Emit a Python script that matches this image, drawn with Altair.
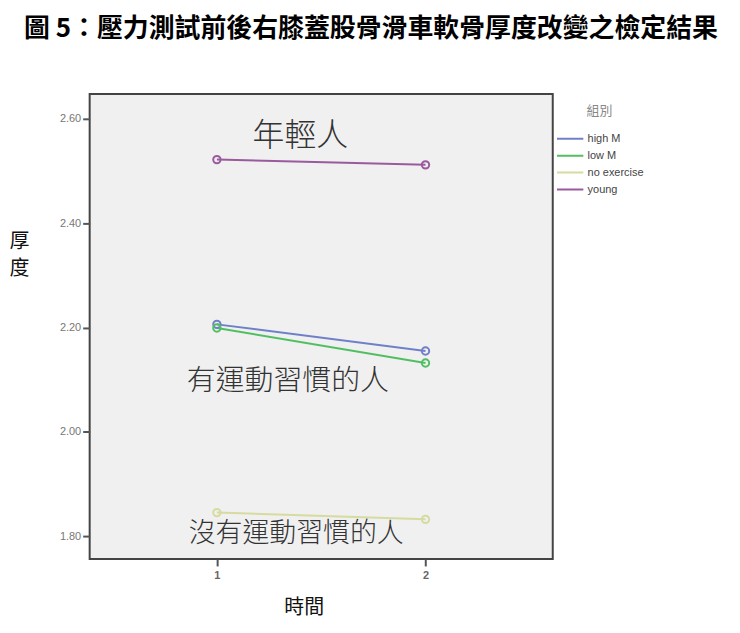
import altair as alt
import pandas as pd

groups = ["high M", "low M", "no exercise", "young"]
times = [1, 2]
high_m = [2.206, 2.155]
low_m = [2.199, 2.132]
no_exercise = [1.845, 1.832]
young = [2.522, 2.512]
colors = ["#7080c8", "#50bf62", "#d6dba0", "#9a5a9e"]

notes = ["年輕人", "有運動習慣的人", "沒有運動習慣的人"]
note_time = [1.40, 1.34, 1.38]
note_value = [2.567, 2.098, 1.803]
note_size = [32, 29, 27]

series = {"high M": high_m, "low M": low_m, "no exercise": no_exercise, "young": young}
rows = []
for g in groups:
    for t, v in zip(times, series[g]):
        rows.append({"時間": t, "厚度": v, "組別": g})
df = pd.DataFrame(rows)
notes_df = pd.DataFrame({"note": notes, "t": note_time, "v": note_value, "s": note_size})

xscale = alt.Scale(domain=[0.39, 2.61], nice=False, zero=False)
yscale = alt.Scale(domain=[1.756, 2.648], nice=False, zero=False)
cscale = alt.Scale(domain=groups, range=colors)

x = alt.X("時間:Q", scale=xscale,
          axis=alt.Axis(values=times, format="d", title="時間", grid=False, domain=False,
                        tickColor="#555", tickSize=7, tickWidth=2,
                        labelColor="#666", labelFont="Liberation Sans", labelFontSize=11,
                        labelFontWeight="bold", labelPadding=4,
                        titleFont="Noto Sans CJK TC", titleFontSize=20, titleFontWeight="normal",
                        titleColor="#111", titleX=215, titleY=49, titleAlign="center",
                        titleBaseline="middle"))
y = alt.Y("厚度:Q", scale=yscale,
          axis=alt.Axis(values=[1.8, 2.0, 2.2, 2.4, 2.6], format=".2f", title=["厚", "度"],
                        grid=False, domain=False, tickColor="#555", tickSize=7, tickWidth=2,
                        labelColor="#777", labelFont="Liberation Sans", labelFontSize=11,
                        labelPadding=2,
                        titleFont="Noto Sans CJK TC", titleFontSize=20, titleFontWeight="normal",
                        titleColor="#111", titleAngle=0, titleX=-71, titleY=138,
                        titleAlign="center", titleBaseline="top", titleLineHeight=27))
color = alt.Color("組別:N", scale=cscale,
                  legend=alt.Legend(title="組別", orient="none", legendX=468, legendY=11,
                                    titleAnchor="middle", titleColor="#888",
                                    titleFont="Noto Sans CJK TC", titleFontSize=13,
                                    titleFontWeight="normal", titlePadding=14,
                                    symbolType="stroke", symbolSize=700, symbolStrokeWidth=2,
                                    clipHeight=14,
                                    labelFont="Liberation Sans", labelFontSize=11,
                                    labelColor="#444", labelOffset=3, rowPadding=3))

lines = alt.Chart(df).mark_line(strokeWidth=2).encode(x=x, y=y, color=color)
points = alt.Chart(df).mark_point(filled=False, size=55, strokeWidth=2, opacity=1).encode(
    x=x, y=y, color=alt.Color("組別:N", scale=cscale, legend=None))
text = alt.Chart(notes_df).mark_text(font="Noto Sans CJK TC", fontWeight=300, color="#333",
                                     align="center", baseline="middle").encode(
    x=alt.X("t:Q", scale=xscale), y=alt.Y("v:Q", scale=yscale),
    text="note:N", size=alt.Size("s:Q", scale=None, legend=None))

chart = alt.layer(lines, points, text).properties(
    width=465, height=467,
    autosize=alt.AutoSizeParams(type="none"),
    padding={"left": 82, "top": 85, "right": 180, "bottom": 64},
    background="white",
    title=alt.TitleParams("圖 5：壓力測試前後右膝蓋股骨滑車軟骨厚度改變之檢定結果",
                          font="Noto Sans CJK TC", fontSize=26, fontWeight="bold",
                          color="#000", anchor="middle", dx=50, offset=52),
).configure_view(fill="#f0f0f0", stroke="#444", strokeWidth=2)

chart.save("out.html", embed_options={"renderer": "svg", "actions": False})
